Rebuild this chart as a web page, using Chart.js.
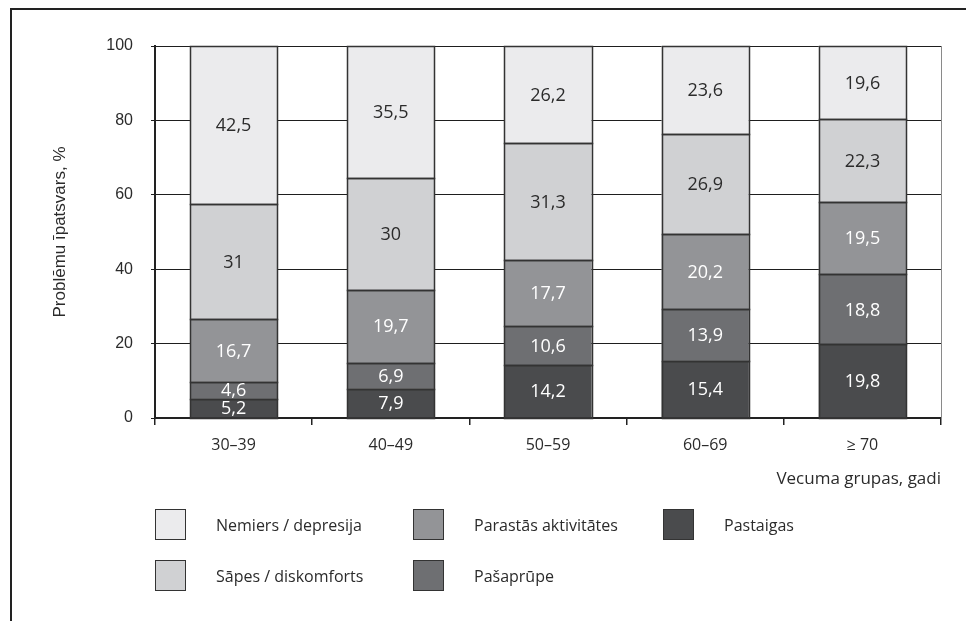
<!DOCTYPE html>
<html>
<head>
<meta charset="utf-8">
<script src="https://cdn.jsdelivr.net/npm/chart.js@4.4.1/dist/chart.umd.min.js"></script>
<style>
  html, body { margin: 0; padding: 0; background: #fff; }
  #wrap { position: relative; width: 966px; height: 621px; overflow: hidden; }
  #frame { position: absolute; left: 10px; top: 8px; right: -20px; bottom: -20px;
           border-top: 2.5px solid #222; border-left: 2px solid #222; }
  canvas { position: absolute; left: 0; top: 0; }
  #legend { position: absolute; left: 155px; top: 509px; display: grid;
            grid-template-columns: 258px 250px auto; grid-template-rows: 31px 31px;
            row-gap: 20px; grid-auto-flow: column;
            font-family: "Open Sans", Roboto, sans-serif; font-size: 16px; color: #2b2b2b; }
  .item { display: flex; align-items: center; }
  .swatch { width: 29px; height: 29px; border: 1.5px solid #333; margin-right: 30px; }
</style>
</head>
<body>
<div id="wrap">
  <div id="frame"></div>
  <canvas id="chart" width="966" height="621"></canvas>
  <div id="legend"></div>
</div>
<script>
// Age groups and shares of reported problems (%), stacked bottom to top
const categories = ['30–39', '40–49', '50–59', '60–69', '≥ 70'];
const pastaigas  = [5.2, 7.9, 14.2, 15.4, 19.8];
const pasaprupe  = [4.6, 6.9, 10.6, 13.9, 18.8];
const parastas   = [16.7, 19.7, 17.7, 20.2, 19.5];
const sapes      = [31, 30, 31.3, 26.9, 22.3];
const nemiers    = [42.5, 35.5, 26.2, 23.6, 19.6];
const yTicks     = [0, 20, 40, 60, 80, 100];

const seriesNames  = ['Pastaigas', 'Pašaprūpe', 'Parastās aktivitātes', 'Sāpes / diskomforts', 'Nemiers / depresija'];
const seriesValues = [pastaigas, pasaprupe, parastas, sapes, nemiers];
const seriesFill   = ['#4a4b4d', '#6e6f72', '#939497', '#d0d1d3', '#ebebed'];
const seriesText   = ['#ffffff', '#ffffff', '#ffffff', '#2b2b2b', '#2b2b2b'];
const legendOrder  = [4, 3, 2, 1, 0];

const fmt = v => String(v).replace('.', ',');
const textFont = '"Open Sans", Roboto, sans-serif';
const axisFont = '"Liberation Sans", Arial, sans-serif';

// Crisp outlines around every stacked segment, then its value label
const segmentOutlinesAndLabels = {
  id: 'segmentOutlinesAndLabels',
  afterDatasetsDraw(chart) {
    const ctx = chart.ctx;
    ctx.save();
    ctx.strokeStyle = '#333333';
    ctx.lineWidth = 1.5;
    chart.data.datasets.forEach((ds, di) => {
      chart.getDatasetMeta(di).data.forEach(el => {
        const p = el.getProps(['x', 'y', 'base', 'width'], true);
        const x0 = Math.round(p.x - p.width / 2), x1 = Math.round(p.x + p.width / 2);
        const y0 = Math.round(p.y), y1 = Math.round(p.base);
        ctx.strokeRect(x0 + 0.5, y0 + 0.5, x1 - x0, y1 - y0);
      });
    });
    ctx.font = '18px ' + textFont;
    ctx.textAlign = 'center';
    ctx.textBaseline = 'middle';
    chart.data.datasets.forEach((ds, di) => {
      chart.getDatasetMeta(di).data.forEach((el, i) => {
        const p = el.getProps(['x', 'y', 'base'], true);
        ctx.fillStyle = seriesText[di];
        ctx.fillText(fmt(ds.data[i]), p.x, (p.y + p.base) / 2 + 1);
      });
    });
    ctx.restore();
  }
};

// Thin closing line on the right side of the plot area
const plotRightEdge = {
  id: 'plotRightEdge',
  beforeDatasetsDraw(chart) {
    const { ctx, chartArea } = chart;
    ctx.save();
    ctx.strokeStyle = '#8a8a8a';
    ctx.lineWidth = 1;
    ctx.beginPath();
    ctx.moveTo(chartArea.right + 0.5, chartArea.top);
    ctx.lineTo(chartArea.right + 0.5, chartArea.bottom);
    ctx.stroke();
    ctx.restore();
  }
};

new Chart(document.getElementById('chart'), {
  type: 'bar',
  data: {
    labels: categories,
    datasets: seriesValues.map((vals, i) => ({
      label: seriesNames[i],
      data: vals,
      backgroundColor: seriesFill[i],
      borderWidth: 0,
      inflateAmount: 0,
      categoryPercentage: 1,
      barPercentage: 0.555
    }))
  },
  options: {
    responsive: false,
    animation: false,
    devicePixelRatio: 1,
    layout: { padding: { left: 0, top: 46, right: 25, bottom: 123 } },
    plugins: { legend: { display: false }, tooltip: { enabled: false } },
    scales: {
      x: {
        stacked: true,
        afterFit(scale) { scale.height = 80; },
        grid: { offset: true, drawOnChartArea: false, drawTicks: true, tickLength: 7, color: '#222', lineWidth: 1.5 },
        border: { color: '#222', width: 2 },
        ticks: { color: '#2b2b2b', padding: 11, font: { family: textFont, size: 16 } },
        title: { display: true, text: 'Vecuma grupas, gadi', align: 'end', color: '#2b2b2b',
                 padding: { top: 0, bottom: 9 }, font: { family: textFont, size: 17 } }
      },
      y: {
        stacked: true,
        min: 0,
        max: 100,
        afterFit(scale) { scale.width = 155; },
        afterBuildTicks(scale) { scale.ticks = yTicks.map(v => ({ value: v })); },
        grid: { color: '#1e1e1e', lineWidth: 1, tickLength: 4 },
        border: { color: '#222', width: 2 },
        ticks: { color: '#2b2b2b', padding: 18, font: { family: axisFont, size: 16 } },
        title: { display: true, text: 'Problēmu īpatsvars, %', color: '#2b2b2b',
                 padding: { top: 50, bottom: 0 }, font: { family: axisFont, size: 17 } }
      }
    }
  },
  plugins: [segmentOutlinesAndLabels, plotRightEdge]
});

// Legend in three columns, filled column by column
const legend = document.getElementById('legend');
legendOrder.forEach(i => {
  const item = document.createElement('div');
  item.className = 'item';
  const sw = document.createElement('span');
  sw.className = 'swatch';
  sw.style.background = seriesFill[i];
  const tx = document.createElement('span');
  tx.textContent = seriesNames[i];
  item.appendChild(sw);
  item.appendChild(tx);
  legend.appendChild(item);
});
</script>
</body>
</html>
